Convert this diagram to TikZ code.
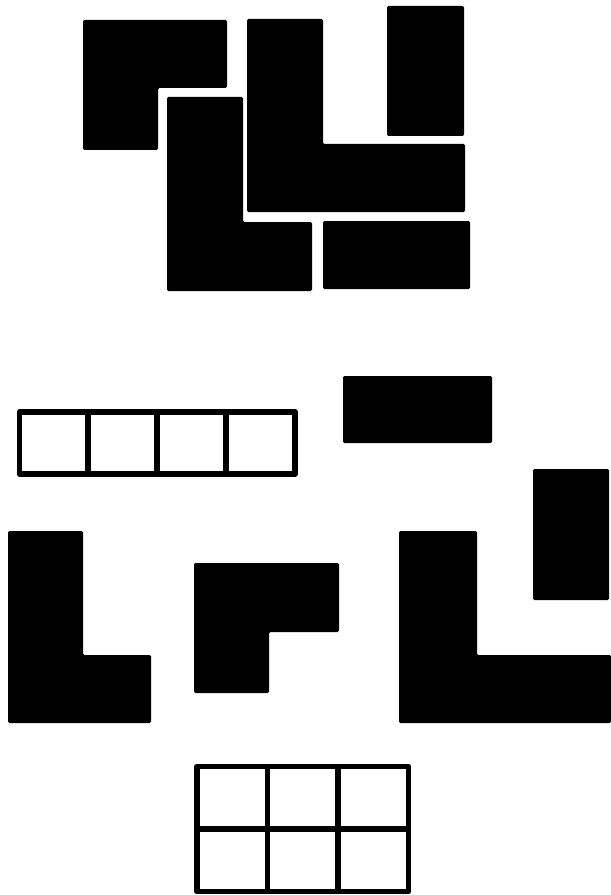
\documentclass[tikz,border=0pt]{standalone}
\usepackage{tikz}

\begin{document}
\begin{tikzpicture}[
x=0.02cm, y=-0.02cm,
piece/.style={fill=black, rounded corners=0.8pt},
grid/.style={draw=black, line width=3.4pt, line join=round} ]

\useasboundingbox (0,0) rectangle (611,895);

% assembled pieces
\fill[piece] (83,20) -- (227,20) -- (227,88) -- (158,88) -- (158,150) -- (83,150) -- cycle;

\fill[piece] (167,97) -- (243,97) -- (243,222) -- (312,222) -- (312,291) -- (167,291) -- cycle;

\fill[piece] (247,19) -- (323,19) -- (323,144) -- (465,144) -- (465,212) -- (247,212) -- cycle;

\fill[piece] (387,6) rectangle (464,136);

\fill[piece] (323,221) rectangle (470,289);

% loose pieces
\draw[grid] (19.5,412) rectangle (295,474);
\foreach \x in {88.4,157.3,226.2}
  \draw[grid] (\x,412) -- (\x,474);

\fill[piece] (343,376) rectangle (492,443);

\fill[piece] (533,469) rectangle (609,600);

\fill[piece] (8,531) -- (83,531) -- (83,655) -- (151,655) -- (151,723) -- (8,723) -- cycle;

\fill[piece] (194,563) -- (339,563) -- (339,632) -- (269,632) -- (269,693) -- (194,693) -- cycle;

\fill[piece] (399,531) -- (477,531) -- (477,655) -- (611,655) -- (611,723) -- (399,723) -- cycle;

% grid of six
\draw[grid] (197,766.5) rectangle (408.5,891.5);
\foreach \x in {267.5,338}
  \draw[grid] (\x,766.5) -- (\x,891.5);
\draw[grid] (197,829) -- (408.5,829);

\end{tikzpicture}
\end{document}
